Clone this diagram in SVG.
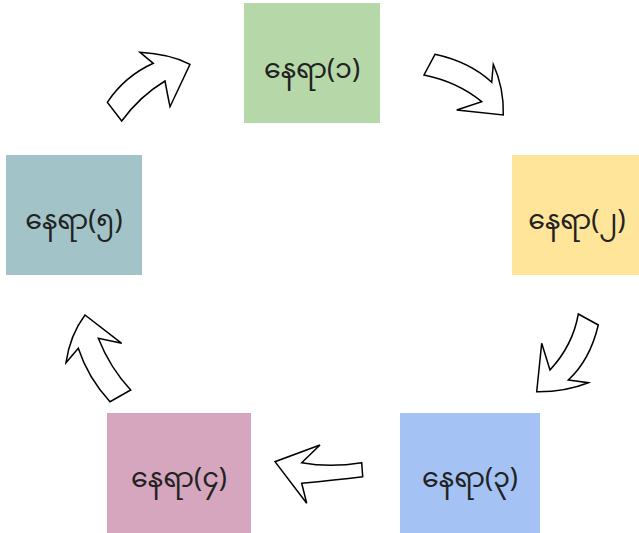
<svg xmlns="http://www.w3.org/2000/svg" width="639" height="533" viewBox="0 0 639 533">
<style>
.lbl{font-family:"Noto Sans Myanmar","Myanmar Text","Padauk","Noto Sans","DejaVu Sans",sans-serif;font-size:27px;fill:#222;text-anchor:middle;dominant-baseline:central}
.arr{fill:#fff;stroke:#000;stroke-width:1.5;stroke-linejoin:miter}
</style>
<rect width="639" height="533" fill="#fff"/>
<g id="n1"><rect x="244" y="3" width="136" height="120" fill="#b6d7a8"/><text class="lbl" x="312" y="71">နေရာ(၁)</text></g>
<g id="n2"><rect x="512" y="155" width="127" height="120" fill="#ffe599"/><text class="lbl" x="577" y="222">နေရာ(၂)</text></g>
<g id="n3"><rect x="400" y="413" width="140" height="120" fill="#a4c2f4"/><text class="lbl" x="470" y="480">နေရာ(၃)</text></g>
<g id="n4"><rect x="107" y="413" width="144" height="120" fill="#d5a6bd"/><text class="lbl" x="179" y="480">နေရာ(၄)</text></g>
<g id="n5"><rect x="6" y="155" width="136" height="120" fill="#a2c4c9"/><text class="lbl" x="74" y="222">နေရာ(၅)</text></g>
<g id="connectors">
<path class="arr" d="M107.3,102.3 Q125,76 153.3,63.3 L140,52.3 Q170,54 190,64.3 L170,106.7 Q167,92 165,81 Q140,96 121.7,121 Z"/>
<path class="arr" d="M435,54.3 Q470,62 491.7,82.3 L493.3,64.3 Q504,88 503.3,115 L456.7,110 L481.7,101.7 Q458,82 424,75 Z"/>
<path class="arr" d="M598.3,325 Q590,360 568.3,380 L588.3,382.7 Q565,392 536.7,391.7 L541.7,343.3 L550,370 Q573,345 578.3,314 Z"/>
<path class="arr" d="M361.7,462.7 Q330,468 301.7,462.7 L320,445 L275,461.7 L306.7,503.3 L301.7,483.3 Q335,480 362.7,476.7 Z"/>
<path class="arr" d="M110,401.7 Q88,378 78.3,348.3 L66,362.7 Q70,335 85,315 L121.7,343.3 L98.3,338.3 Q110,368 130.7,390 Z"/>
</g>
</svg>
